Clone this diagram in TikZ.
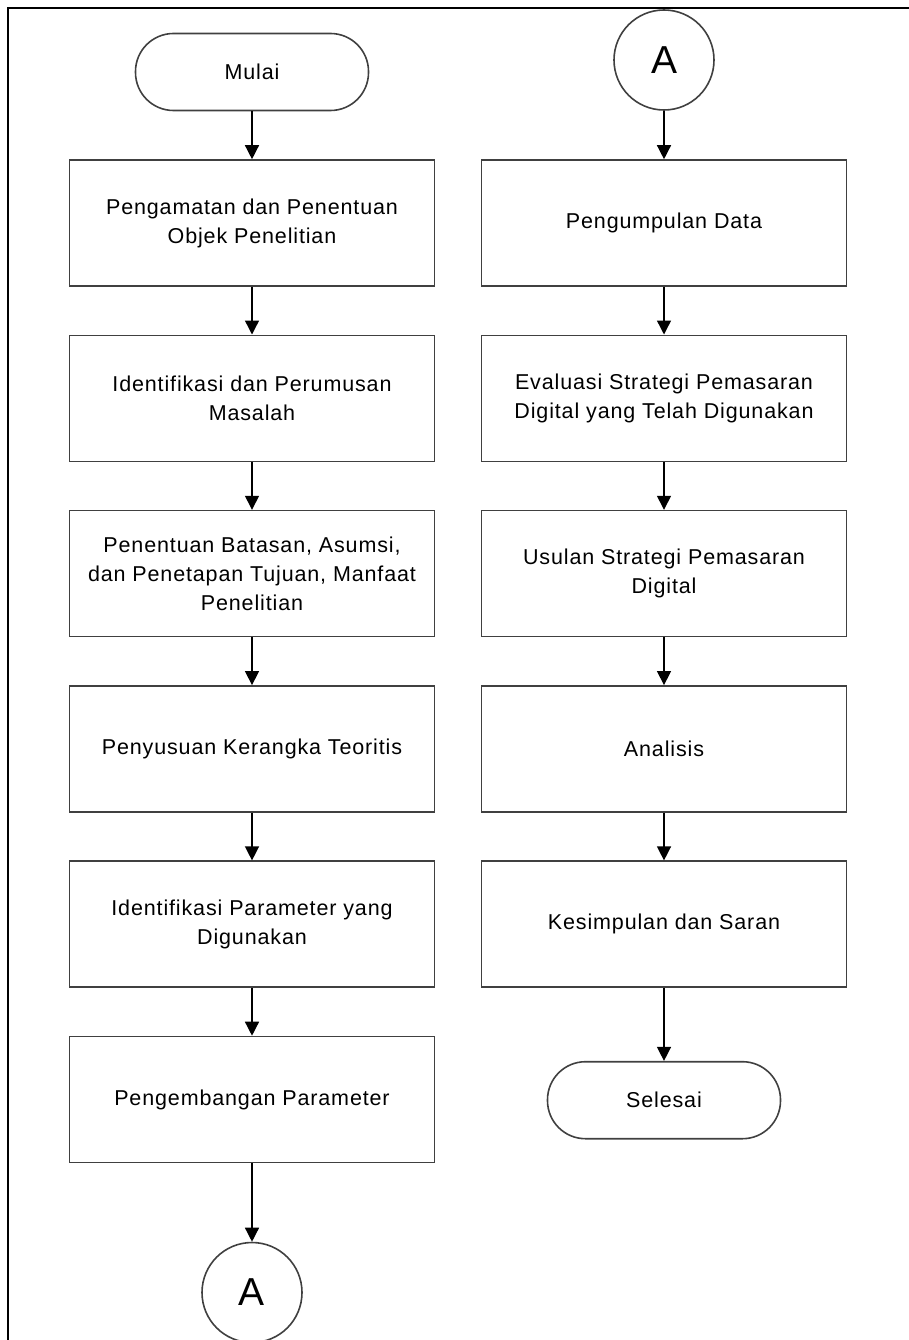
\documentclass[tikz,border=0pt]{standalone}
\usepackage{fontspec}
\setmainfont{Liberation Sans}[LetterSpace=4]
\usepackage{tikz}
\usetikzlibrary{positioning,arrows.meta}

\begin{document}
\begin{tikzpicture}[-{Triangle[width=14pt,length=14pt]} ,node distance = 175.3pt ,on grid ,line width=1.4pt ,font=\fontsize{21.5}{29}\selectfont ,terminal/.style ={rectangle ,rounded corners=38pt ,draw=black!75 ,line width=1.6pt ,minimum width=233pt ,minimum height=77pt} ,process/.style ={rectangle ,draw=black!75 ,line width=1.6pt ,minimum width=365pt ,minimum height=126pt ,align=center} ,connector/.style ={circle ,draw=black!75 ,line width=1.6pt ,minimum size=100pt ,inner sep=0pt ,font=\fontsize{39}{39}\selectfont}]
\useasboundingbox (0,0) rectangle (909pt,-1340pt);
\draw[-, line width=2pt] (8pt,-1345pt) -- (8pt,-8pt) -- (915pt,-8pt);
\node[terminal] (mulai) at (252pt,-72pt) {Mulai};
\node[process] (amati) [below = 151pt of mulai] {Pengamatan dan Penentuan\\Objek Penelitian};
\node[process] (rumus) [below = of amati] {Identifikasi dan Perumusan\\Masalah};
\node[process] (batas) [below = of rumus] {Penentuan Batasan, Asumsi,\\dan Penetapan Tujuan, Manfaat\\Penelitian};
\node[process] (teori) [below = of batas] {Penyusuan Kerangka Teoritis};
\node[process] (param) [below = of teori] {Identifikasi Parameter yang\\Digunakan};
\node[process] (kembang) [below = of param] {Pengembangan Parameter};
\node[connector] (keA) [below = 193pt of kembang] {A};
\node[connector] (dariA) at (664pt,-60pt) {A};
\node[process] (kumpul) [below = 163pt of dariA] {Pengumpulan Data};
\node[process] (evaluasi) [below = of kumpul] {Evaluasi Strategi Pemasaran\\Digital yang Telah Digunakan};
\node[process] (usulan) [below = of evaluasi] {Usulan Strategi Pemasaran\\Digital};
\node[process] (analisis) [below = of usulan] {Analisis};
\node[process] (simpul) [below = of analisis] {Kesimpulan dan Saran};
\node[terminal] (selesai) [below = 176pt of simpul] {Selesai};
\path (mulai) edge (amati);
\path (amati) edge (rumus);
\path (rumus) edge (batas);
\path (batas) edge (teori);
\path (teori) edge (param);
\path (param) edge (kembang);
\path (kembang) edge (keA);
\path (dariA) edge (kumpul);
\path (kumpul) edge (evaluasi);
\path (evaluasi) edge (usulan);
\path (usulan) edge (analisis);
\path (analisis) edge (simpul);
\path (simpul) edge (selesai);
\end{tikzpicture}
\end{document}
